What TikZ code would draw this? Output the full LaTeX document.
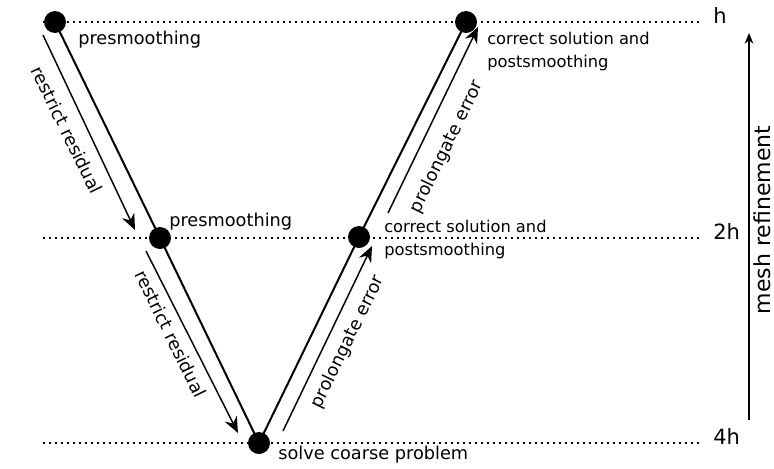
\documentclass[tikz,border=0pt]{standalone}
\usepackage{fontspec}
\setmainfont{DejaVu Sans}
\usetikzlibrary{arrows.meta}
\tikzset{
  levelpt/.style={circle, fill, inner sep=0pt, minimum size=16.5pt},
  vleg/.style={line width=1.5pt},
  cyclearrow/.style={line width=1.1pt, -{Stealth[length=12pt, width=10pt, inset=4pt]}},
  levelline/.style={line width=1.2pt, dash pattern=on 1.2pt off 3.3pt},
  steptext/.style={inner sep=0pt, font=\fontsize{13.3}{16}\selectfont},
  corrtext/.style={inner sep=0pt, align=left, font=\fontsize{12.2}{17.25}\selectfont},
  leveltext/.style={inner sep=0pt, anchor=base west, font=\fontsize{15.75}{19}\selectfont}
}
\begin{document}
\begin{tikzpicture}[x=0.75pt, y=-0.75pt]
  \useasboundingbox (0,0) rectangle (774,468);
  % grid levels
  \foreach \y/\lvl/\txt in {22/lh/h, 238/l2h/2h, 443/l4h/4h} {
    \coordinate (\lvl-w) at (43,\y);
    \coordinate (\lvl-e) at (702,\y);
    \node[leveltext] (\lvl) at (713,\y+1) {\txt};
    \draw[levelline] (\lvl-w) -- (\lvl-e);
  }
  % V-cycle points
  \node[levelpt] (t1) at (55,22) {};
  \node[levelpt] (m1) at (160,238) {};
  \node[levelpt] (b) at (259,443) {};
  \node[levelpt] (m2) at (359,237) {};
  \node[levelpt] (t2) at (466,22) {};
  \draw[vleg] (t1.center) -- (m1.center) -- (b.center) -- (m2.center) -- (t2.center);
  % transfers
  \draw[cyclearrow] ([shift={(-12,13)}]t1.center) -- ([shift={(-25,-8)}]m1.center);
  \draw[cyclearrow] ([shift={(-14,13)}]m1.center) -- ([shift={(-21,-10)}]b.center);
  \draw[cyclearrow] ([shift={(24,-12)}]b.center) -- ([shift={(13,9)}]m2.center);
  \draw[cyclearrow] ([shift={(29,-24)}]m2.center) -- ([shift={(12,5)}]t2.center);
  \node[steptext, rotate=-64] (r1) at (67,130) {restrict residual};
  \node[steptext, rotate=-64] (r2) at (171,334) {restrict residual};
  \node[steptext, rotate=64] (p1) at (348,342) {prolongate error};
  \node[steptext, rotate=64] (p2) at (447,147) {prolongate error};
  % smoothing
  \node[steptext, anchor=west] (s1) at (78,40) {presmoothing};
  \node[steptext, anchor=west] (s2) at (169,222) {presmoothing};
  \node[steptext, anchor=west] (sc) at (278,455) {solve coarse problem};
  \node[corrtext, anchor=west] (c2) at (384,239.5) {correct solution and\\postsmoothing};
  \node[corrtext, anchor=west] (c1) at (487,51.5) {correct solution and\\postsmoothing};
  % refinement axis
  \coordinate (ax-b) at (749,420);
  \coordinate (ax-t) at (749,33);
  \draw[line width=1pt, -{Stealth[length=8pt, width=6.5pt, inset=2.5pt]}] (ax-b) -- (ax-t);
  \node[inner sep=0pt, rotate=90, font=\fontsize{16.5}{19}\selectfont] (mr) at (762,220) {mesh refinement};
\end{tikzpicture}
\end{document}
